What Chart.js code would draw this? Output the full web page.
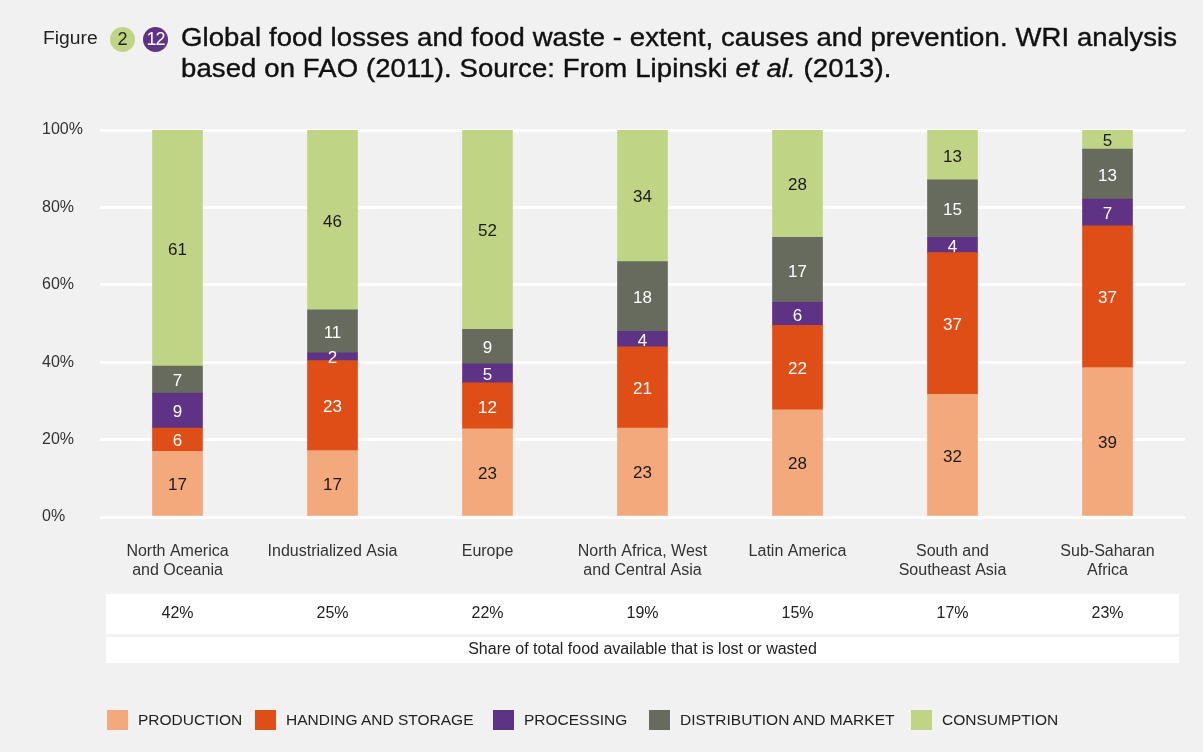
<!DOCTYPE html>
<html>
<head>
<meta charset="utf-8">
<script src="https://cdn.jsdelivr.net/npm/chart.js@4.4.1/dist/chart.umd.min.js"></script>
<style>
    body { margin: 0; background: #f1f1f1; font-family: "Liberation Sans", Arial, sans-serif; }
    #wrap { position: relative; width: 1203px; height: 752px; overflow: hidden; }
    #foodChart { position: absolute; left: 0; top: 0; }
    .fig { position: absolute; left: 43px; top: 28px; font-size: 18px; color: #222;
           transform: scaleX(1.07); transform-origin: left center; }
    .badge { position: absolute; top: 27px; width: 25px; height: 25px; border-radius: 50%;
             text-align: center; line-height: 25px; font-size: 18px; }
    .title { position: absolute; left: 181px; top: 22px; font-size: 25px; line-height: 31px;
             letter-spacing: 0.1px; color: #111; -webkit-text-stroke: 0.4px #111; white-space: nowrap;
             transform: scaleX(1.1); transform-origin: left top; }
    #legend { position: absolute; left: 0; top: 710px; width: 1203px; height: 20px;
              font-size: 15.5px; color: #222; }
    #legend .item { position: absolute; top: 0; display: flex; align-items: center; height: 20px; white-space: nowrap; }
    #legend .sw { width: 21px; height: 20px; margin-right: 10px; }
</style>
</head>
<body>
<div id="wrap">
    <canvas id="foodChart" width="1203" height="752"></canvas>
    <div class="fig">Figure</div>
    <div class="badge" style="left:110px;background:#bfd585;color:#222;">2</div>
    <div class="badge" style="left:143px;background:#5e3285;color:#fff;letter-spacing:-1px;">12</div>
    <div class="title">Global food losses and food waste - extent, causes and prevention. WRI analysis<br>based on FAO (2011). Source: From Lipinski <i>et al.</i> (2013).</div>
    <div id="legend"></div>
</div>
<script>
// 地区（x 轴分类）
const regions = [
    ['North America', 'and Oceania'],
    ['Industrialized Asia'],
    ['Europe'],
    ['North Africa, West', 'and Central Asia'],
    ['Latin America'],
    ['South and', 'Southeast Asia'],
    ['Sub-Saharan', 'Africa']
];

// 各环节损失占比（图中标注的数值）
const production   = [17, 17, 23, 23, 28, 32, 39];
const handling     = [6, 23, 12, 21, 22, 37, 37];
const processing   = [9, 2, 5, 4, 6, 4, 7];
const distribution = [7, 11, 9, 18, 17, 15, 13];
const consumption  = [61, 46, 52, 34, 28, 13, 5];

// 损失或浪费占可用食物总量的比例
const shareLost = [42, 25, 22, 19, 15, 17, 23];
const shareNote = 'Share of total food available that is lost or wasted';

const seriesNames  = ['PRODUCTION', 'HANDING AND STORAGE', 'PROCESSING', 'DISTRIBUTION AND MARKET', 'CONSUMPTION'];
const seriesColors = ['#f3a97c', '#e04e17', '#5e3285', '#676b5d', '#bfd585'];
const labelColors  = ['#1a1a1a', '#ffffff', '#ffffff', '#ffffff', '#1a1a1a'];
const seriesData   = [production, handling, processing, distribution, consumption];

const FONT = '"Liberation Sans", Arial, sans-serif';

// 每个柱子按 100% 堆叠
const totals = regions.map((r, i) => seriesData.reduce((s, arr) => s + arr[i], 0));

const datasets = seriesData.map(function(arr, k) {
    return {
        label: seriesNames[k],
        data: arr.map((v, i) => v / totals[i] * 100),
        rawValues: arr,
        backgroundColor: seriesColors[k],
        borderWidth: 0,
        barThickness: 50
    };
});

// 柱内数值标签
const barLabels = {
    id: 'barLabels',
    afterDatasetsDraw(chart) {
        const ctx = chart.ctx;
        ctx.save();
        ctx.font = '17px ' + FONT;
        ctx.textAlign = 'center';
        ctx.textBaseline = 'middle';
        chart.data.datasets.forEach(function(ds, k) {
            const meta = chart.getDatasetMeta(k);
            meta.data.forEach(function(bar, i) {
                ctx.fillStyle = labelColors[k];
                ctx.fillText(String(ds.rawValues[i]), bar.x, (bar.y + bar.base) / 2 + 2);
            });
        });
        ctx.restore();
    }
};

// 底部白色表格
const shareTable = {
    id: 'shareTable',
    afterDraw(chart) {
        const ctx = chart.ctx;
        const xs = chart.scales.x;
        const left = 106, right = 1179;
        ctx.save();
        ctx.fillStyle = '#ffffff';
        ctx.fillRect(left, 594, right - left, 40);
        ctx.fillRect(left, 637, right - left, 26);
        ctx.fillStyle = '#222';
        ctx.font = '16px ' + FONT;
        ctx.textAlign = 'center';
        ctx.textBaseline = 'middle';
        shareLost.forEach(function(v, i) {
            ctx.fillText(v + '%', xs.getPixelForValue(i), 614);
        });
        ctx.fillText(shareNote, (left + right) / 2, 650);
        ctx.restore();
    }
};

new Chart(document.getElementById('foodChart').getContext('2d'), {
    type: 'bar',
    data: { labels: regions, datasets: datasets },
    options: {
        responsive: false,
        animation: false,
        layout: { padding: { top: 130, left: 42, right: 18, bottom: 0 } },
        plugins: {
            legend: { display: false },
            tooltip: { enabled: false }
        },
        scales: {
            x: {
                stacked: true,
                grid: { display: false },
                border: { display: false },
                ticks: {
                    color: '#333',
                    padding: 17,
                    maxRotation: 0,
                    autoSkip: false,
                    font: { family: FONT, size: 16, lineHeight: 1.2 }
                },
                afterFit(scale) { scale.height = 235; }
            },
            y: {
                stacked: true,
                min: 0,
                max: 100,
                ticks: {
                    stepSize: 20,
                    crossAlign: 'far',
                    color: '#333',
                    font: { family: FONT, size: 16 },
                    callback: v => v + '%'
                },
                grid: { color: '#ffffff', lineWidth: 3, drawTicks: false },
                border: { display: false },
                afterFit(scale) { scale.width = 58; }
            }
        }
    },
    plugins: [barLabels, shareTable]
});

// 图例
const legendLeft = [107, 255, 493, 649, 911];
const legendBox = document.getElementById('legend');
seriesNames.forEach(function(name, k) {
    const item = document.createElement('div');
    item.className = 'item';
    item.style.left = legendLeft[k] + 'px';
    item.innerHTML = '<span class="sw" style="background:' + seriesColors[k] + '"></span>' + name;
    legendBox.appendChild(item);
});
</script>
</body>
</html>
